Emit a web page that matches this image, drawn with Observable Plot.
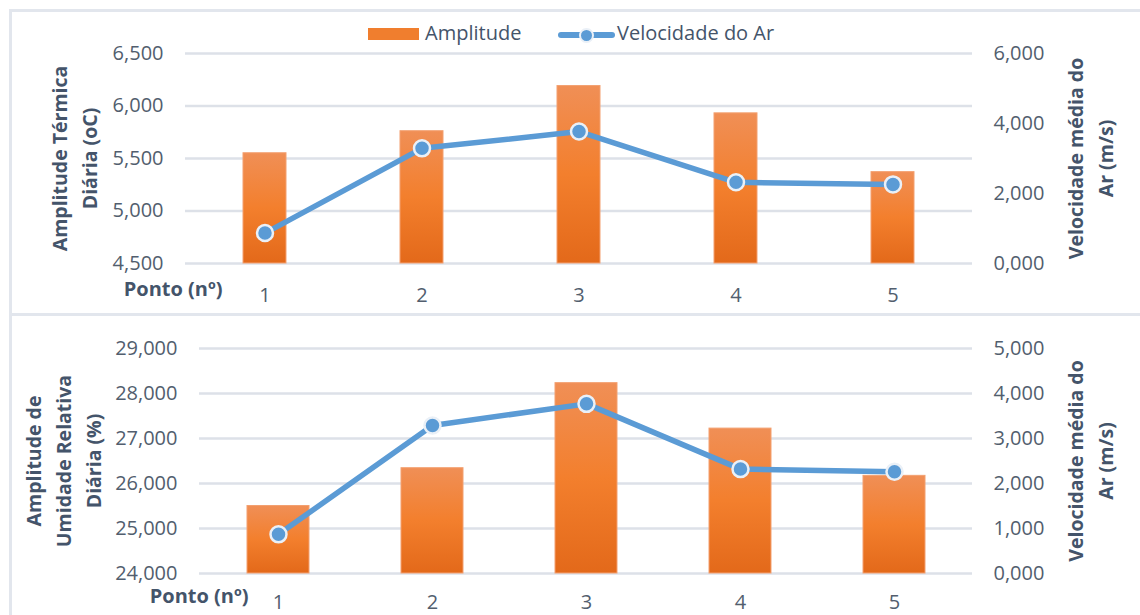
<!DOCTYPE html>
<html><head><meta charset="utf-8">
<script src="https://cdn.jsdelivr.net/npm/d3@7"></script>
<script src="https://cdn.jsdelivr.net/npm/@observablehq/plot@0.6"></script>
<style>
body{margin:0;background:#fff;font-family:"Open Sans",sans-serif;}
#wrap{position:relative;width:1140px;height:615px;overflow:hidden;background:#fff;}
.layer{position:absolute;left:0;}
.frame{position:absolute;border:3px solid #e2e6ed;box-sizing:border-box;}
.leg{position:absolute;font-size:20px;color:#44546a;line-height:1;white-space:nowrap;}
</style></head>
<body><div id="wrap"></div>
<script>
// ---- data ----
const pontos = ["1", "2", "3", "4", "5"];
const amplitudeTermica = [5.55, 5.76, 6.19, 5.93, 5.37];
const amplitudeUmidade = [25.50, 26.34, 28.23, 27.22, 26.17];
const velocidadeAr = [0.87, 3.29, 3.77, 2.32, 2.26];
const ticksTermica = [4.5, 5, 5.5, 6, 6.5];
const ticksUmidade = [24, 25, 26, 27, 28, 29];
const ticksVelTop = [0, 2, 4, 6];
const ticksVelBottom = [0, 1, 2, 3, 4, 5];
const legendLabels = ["Amplitude", "Velocidade do Ar"];
const xTitle = "Ponto (nº)";
const yTitleTop = "Amplitude Térmica\nDiária (oC)";
const yTitleBottom = "Amplitude de\nUmidade Relativa\nDiária (%)";
const yTitleRight = "Velocidade média do\nAr (m/s)";

const locale = d3.formatLocale({decimal: ",", thousands: ".", grouping: [3], currency: ["", ""]});
const fmt = locale.format(".3f");

const tickColor = "#525e6e";
const titleColor = "#44546a";
const blue = "#5b9bd5";
const wrap = document.getElementById("wrap");

// frames
function frame(l, t, w, h) {
  const d = document.createElement("div");
  d.className = "frame";
  Object.assign(d.style, {left: l + "px", top: t + "px", width: w + "px", height: h + "px"});
  wrap.appendChild(d);
}
frame(9, 9, 1200, 307);
frame(9, 313, 1200, 400);

function addGradient(svg, id) {
  const defs = d3.select(svg).insert("defs", ":first-child");
  const g = defs.append("linearGradient").attr("id", id)
    .attr("x1", 0).attr("y1", 0).attr("x2", 0).attr("y2", 1);
  g.append("stop").attr("offset", "0%").attr("stop-color", "#f08f56");
  g.append("stop").attr("offset", "50%").attr("stop-color", "#f37f2d");
  g.append("stop").attr("offset", "100%").attr("stop-color", "#e3691a");
}

function panel(cfg) {
  const bars = pontos.map((p, i) => ({ponto: p, valor: cfg.barValues[i]}));
  const line = pontos.map((p, i) => ({ponto: p, vel: velocidadeAr[i]}));
  const common = {
    width: 1140, height: cfg.height,
    marginTop: cfg.mt, marginBottom: cfg.mb, marginLeft: cfg.ml, marginRight: 168,
    style: {fontFamily: "Open Sans", fontSize: "20px", color: tickColor, background: "transparent", overflow: "visible"}
  };
  const xScale = {type: "band", domain: pontos, paddingInner: cfg.pad, paddingOuter: cfg.pad / 2};
  const p1 = Plot.plot({
    ...common,
    x: xScale,
    y: {domain: cfg.yDomain, ticks: cfg.yTicks},
    marks: [
      Plot.gridY(cfg.yTicks, {stroke: "#dde1e8", strokeOpacity: 1, strokeWidth: 2.5}),
      Plot.barY(bars, {x: "ponto", y1: cfg.yDomain[0], y2: "valor", fill: `url(#${cfg.id})`, stroke: "#f3a070", strokeWidth: 1}),
      Plot.axisY({ticks: cfg.yTicks, tickFormat: fmt, tickSize: 0, tickPadding: 22, label: null}),
      Plot.axisX({tickSize: 0, tickPadding: cfg.xPad, label: null}),
      Plot.text([xTitle], {frameAnchor: "bottom-left", dx: cfg.xtDx, dy: cfg.xPad + 8, textAnchor: "end", fontWeight: "bold", fontSize: 20, fill: titleColor}),
      Plot.text([cfg.yTitle], {frameAnchor: "left", dx: cfg.ytDx, rotate: -90, textAnchor: "middle", lineAnchor: "middle", lineHeight: 1.55, fontWeight: "bold", fontSize: 19.5, fill: titleColor})
    ]
  });
  addGradient(p1, cfg.id);
  const p2 = Plot.plot({
    ...common,
    x: {...xScale, axis: null},
    y: {domain: cfg.velDomain, ticks: cfg.velTicks},
    marks: [
      Plot.line(line, {x: "ponto", y: "vel", stroke: blue, strokeWidth: 5.5, strokeLinejoin: "round"}),
      Plot.dot(line, {x: "ponto", y: "vel", r: 8, fill: blue, stroke: "#eaf0f7", strokeWidth: 2.5}),
      Plot.axisY({anchor: "right", ticks: cfg.velTicks, tickFormat: fmt, tickSize: 0, tickPadding: 21, label: null}),
      Plot.text([yTitleRight], {frameAnchor: "right", dx: 116, rotate: -90, textAnchor: "middle", lineAnchor: "middle", lineHeight: 1.55, fontWeight: "bold", fontSize: 19.5, fill: titleColor})
    ]
  });
  [p1, p2].forEach(s => {
    s.classList.add("layer");
    s.style.top = cfg.top + "px";
    wrap.appendChild(s);
  });
}

panel({id: "gradTop", top: 0, height: 310, mt: 53, mb: 47, ml: 185, pad: 0.727, xPad: 24,
  barValues: amplitudeTermica, yDomain: [4.5, 6.5], yTicks: ticksTermica,
  velDomain: [0, 6], velTicks: ticksVelTop, yTitle: yTitleTop, ytDx: -113, xtDx: 37});
panel({id: "gradBot", top: 310, height: 305, mt: 38, mb: 42, ml: 199, pad: 0.6, xPad: 21,
  barValues: amplitudeUmidade, yDomain: [24, 29], yTicks: ticksUmidade,
  velDomain: [0, 5], velTicks: ticksVelBottom, yTitle: yTitleBottom, ytDx: -138, xtDx: 49});

// legend (top panel)
function el(html, style) {
  const d = document.createElement("div");
  d.className = "leg";
  d.innerHTML = html;
  Object.assign(d.style, style);
  wrap.appendChild(d);
}
el("", {left: "368px", top: "28px", width: "51px", height: "12px", background: "#f07e2e"});
el(legendLabels[0], {left: "425px", top: "23px"});
el("", {left: "558px", top: "32px", width: "57px", height: "6px", background: blue, borderRadius: "3px"});
el("", {left: "579px", top: "28px", width: "11px", height: "11px", background: blue, borderRadius: "50%", border: "2px solid #eaf0f7"});
el(legendLabels[1], {left: "617px", top: "23px"});
</script>
</body></html>
